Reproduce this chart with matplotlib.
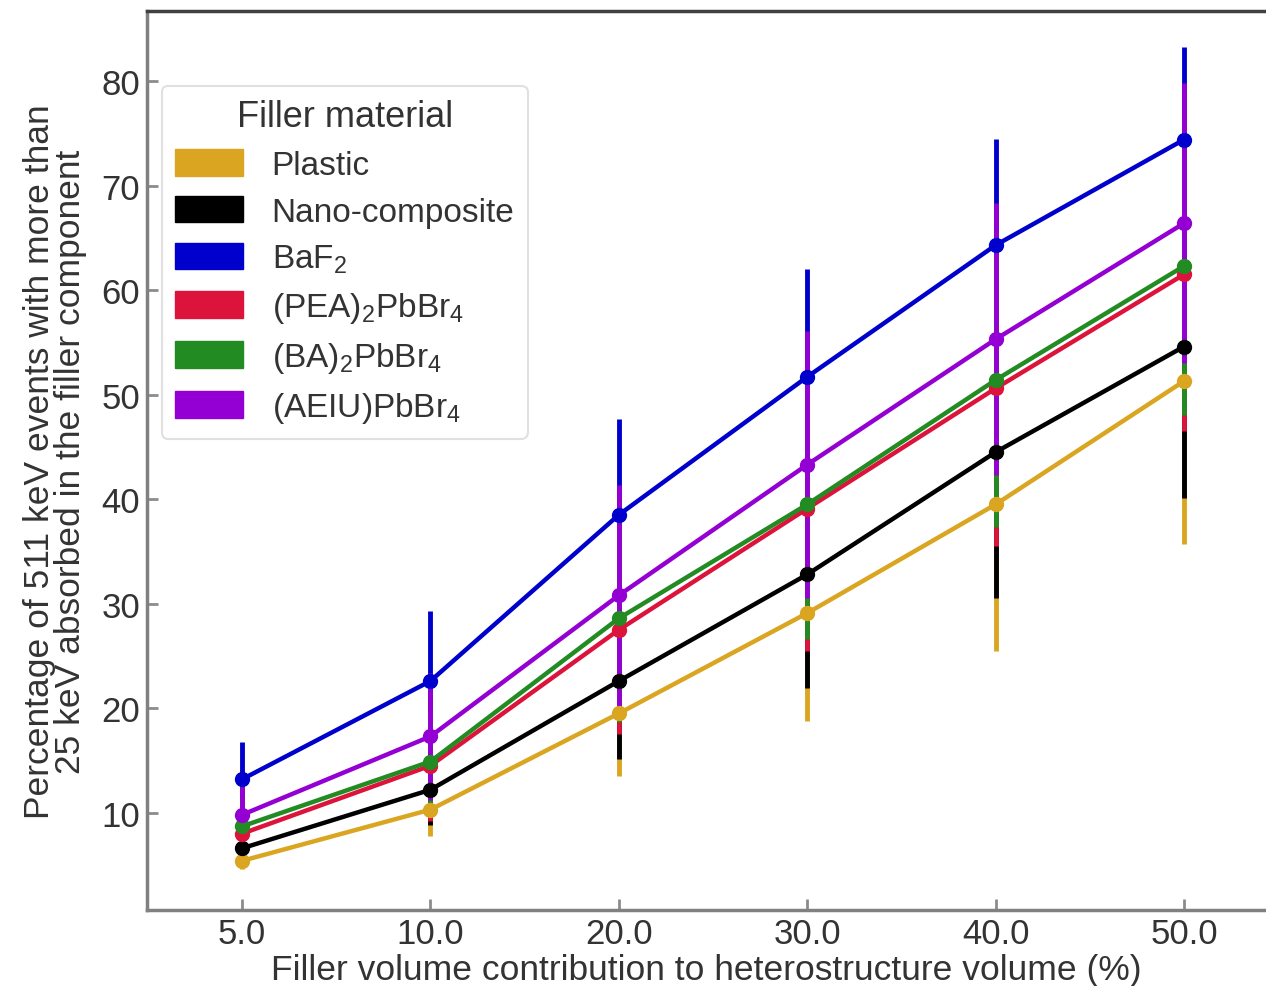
import matplotlib
matplotlib.use("Agg")
import matplotlib.pyplot as plt
from matplotlib.patches import Patch

plt.rcParams["font.family"] = ["Liberation Sans", "DejaVu Sans"]
plt.rcParams["text.color"] = "#333333"

# data
volumes = ["5.0", "10.0", "20.0", "30.0", "40.0", "50.0"]
materials = ["Plastic", "Nano-composite", r"BaF$_\mathregular{2}$",
             r"(PEA)$_\mathregular{2}$PbBr$_\mathregular{4}$",
             r"(BA)$_\mathregular{2}$PbBr$_\mathregular{4}$",
             r"(AEIU)PbBr$_\mathregular{4}$"]
colors = ["goldenrod", "black", "mediumblue", "crimson", "forestgreen", "darkviolet"]

plastic = [5.4, 10.3, 19.5, 29.1, 39.5, 51.3]
nano = [6.6, 12.2, 22.6, 32.8, 44.5, 54.6]
baf2 = [13.2, 22.6, 38.5, 51.7, 64.3, 74.4]
pea = [8.0, 14.5, 27.5, 39.1, 50.6, 61.5]
ba = [8.7, 14.9, 28.6, 39.5, 51.4, 62.3]
aeiu = [9.8, 17.3, 30.8, 43.3, 55.3, 66.4]

plastic_err = [0.8, 2.5, 6.0, 10.3, 14.0, 15.6]
nano_err = [1.2, 3.4, 7.5, 10.9, 14.0, 14.5]
baf2_err = [3.6, 6.7, 9.2, 10.3, 10.2, 8.9]
pea_err = [2.5, 5.3, 10.0, 13.6, 15.1, 15.0]
ba_err = [2.7, 4.8, 9.9, 12.9, 14.1, 14.2]
aeiu_err = [2.9, 6.1, 10.6, 12.8, 13.0, 13.4]

values = [plastic, nano, baf2, pea, ba, aeiu]
errors = [plastic_err, nano_err, baf2_err, pea_err, ba_err, aeiu_err]

fig = plt.figure(figsize=(12.66, 9.87), dpi=100)
ax = fig.add_axes([147 / 1266, 76 / 987, 1 - 147 / 1266, 899 / 987])

x = list(range(len(volumes)))
for vals, errs, c in zip(values, errors, colors):
    ax.errorbar(x, vals, yerr=errs, color=c, lw=3.2, marker="o", ms=10,
                elinewidth=3.5, capsize=0, zorder=2)

ax.set_xlim(-0.504, 5.435)
ax.set_ylim(0.7, 86.7)
ax.set_xticks(x)
ax.set_xticklabels(volumes)
ax.set_yticks([10, 20, 30, 40, 50, 60, 70, 80])

ax.tick_params(direction="in", length=8, width=2, color="0.55",
               labelsize=25, labelcolor="#333333", pad=5)
for s in ["left", "bottom"]:
    ax.spines[s].set_color("0.5")
    ax.spines[s].set_linewidth(2.5)
ax.spines["top"].set_color("0.25")
ax.spines["top"].set_linewidth(2.5)
ax.spines["right"].set_visible(False)

ax.set_xlabel("Filler volume contribution to heterostructure volume (%)",
              fontsize=25.5, color="#333333", labelpad=2)
ax.set_ylabel("Percentage of 511 keV events with more than\n25 keV absorbed in the filler component",
              fontsize=25.5, color="#333333", labelpad=10, linespacing=0.95)

handles = [Patch(facecolor=c, edgecolor=c) for c in colors]
leg = ax.legend(handles, materials, title="Filler material", loc="upper left",
                bbox_to_anchor=(0.013, 0.917), borderaxespad=0, fontsize=24,
                title_fontsize=26, handlelength=2.05, handleheight=0.85,
                labelspacing=0.45, handletextpad=0.85, borderpad=0.4,
                frameon=True, fancybox=True, edgecolor="0.85")
leg.get_frame().set_linewidth(1.5)

fig.savefig("out.png", dpi=100)
